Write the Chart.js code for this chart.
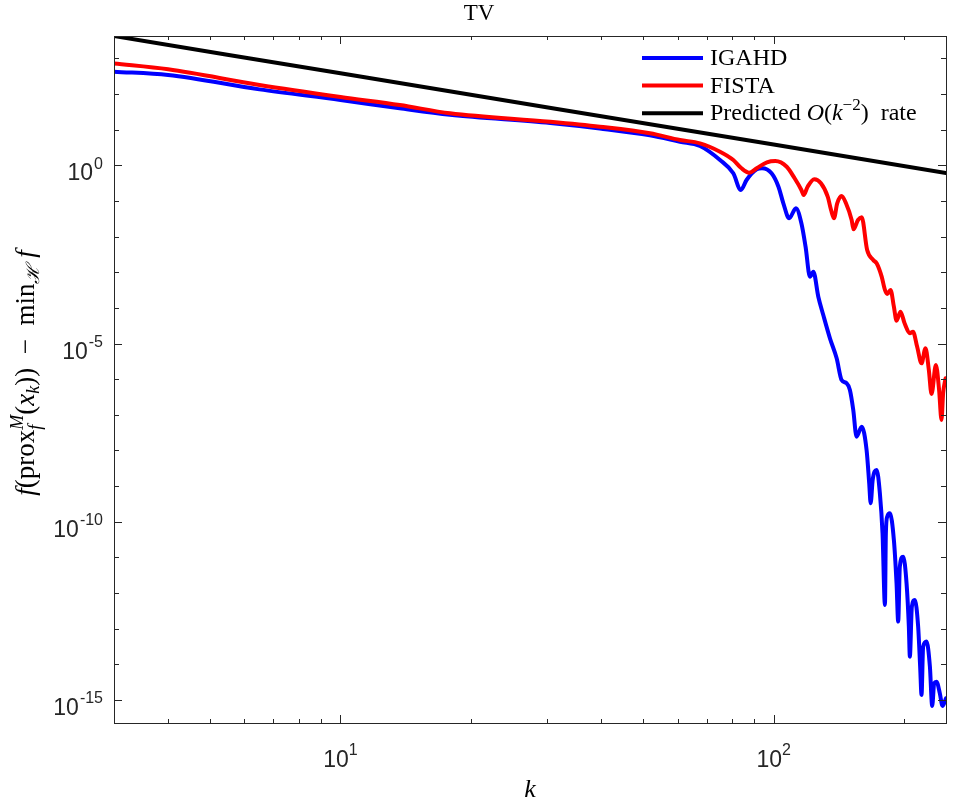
<!DOCTYPE html>
<html>
<head>
<meta charset="utf-8">
<script src="https://cdn.jsdelivr.net/npm/chart.js@4.4.1/dist/chart.umd.min.js"></script>
<style>
  html, body { margin: 0; padding: 0; background: #fff; }
  #wrap { position: relative; width: 955px; height: 805px; }
</style>
</head>
<body>
<div id="wrap"><canvas id="tvChart"></canvas></div>
<script>
// iterations k and objective gap
const igahdK = [3, 4, 6.5, 10, 13.7, 17.9, 30.5, 39.7, 51.8, 60.8, 67.6, 75.2, 80.7, 84.0, 86.6,
  91.4, 94.0, 98.9, 102.6, 105.3, 108.6, 112.6, 115.9, 118.5, 121.3, 123.5, 126.8, 130.2,
  134.9, 139.8, 143.5, 147.4, 150.0, 152.7, 155.4, 159.7, 163.9, 166.2, 167.5, 169.3, 172.9,
  175.9, 178.4, 180.7, 181.6, 182.9, 185.5, 189.5, 192.2, 193.9, 195.6, 199.1, 202.7, 205.2,
  206.3, 208.5, 211.8, 215.6, 217.9, 219.5, 221.4, 225.4, 229.5, 232.3, 234.8, 237.7, 241.9,
  245.4, 250];
const igahdGap = [423, 341, 135, 67.9, 39.7, 26.2, 15.4, 10.8, 6.94, 4.59, 3.48, 1.41, 0.597, 0.203, 0.387,
  0.772, 0.824, 0.597, 0.251, 0.086, 0.0326, 0.0622, 0.0236, 5.21e-3, 7.5e-4, 1.04e-3, 2.06e-4, 6.3e-5,
  1.4e-5, 3.85e-6, 9.5e-7, 7.7e-7, 4.98e-7, 1.37e-7, 2.44e-8, 4.65e-8, 1.03e-8, 1.2e-9, 3.3e-10, 1.49e-9, 2.84e-9,
  6.3e-10, 4.75e-11, 4.63e-13, 4.75e-11, 1.39e-10, 1.73e-10, 3.08e-11, 1.88e-12, 1.58e-13, 5.51e-12, 1.05e-11, 1.88e-12, 1.14e-13,
  1.64e-14, 4.16e-13, 6.4e-13, 1.14e-13, 8.63e-15, 1.39e-15, 3.14e-14, 4.34e-14, 8.63e-15, 6.81e-16, 2.95e-15, 3.27e-15, 1.55e-15,
  6.81e-16, 1.12e-15];

const fistaK = [3, 4, 6.5, 10, 13.7, 17.9, 30.5, 39.7, 51.8, 60.8, 67.6, 75.2, 80.7, 84.3, 87.8,
  91.4, 96.5, 100.9, 107.2, 111.8, 115.9, 117.3, 119.8, 124.1, 128.6, 133.3, 135.7, 137.8, 140.2,
  143.5, 146.9, 151.4, 152.9, 156.6, 159.7, 164.4, 169.8, 172.9, 177.6, 180.7, 182.9, 186.2,
  189.5, 192.2, 196.3, 200.6, 206.3, 209.8, 214.4, 219.5, 224.2, 228.2, 231.5, 236.9, 241.0,
  244.1, 246.2, 249.4];
const fistaGap = [718, 493, 179, 82.4, 49.1, 28.8, 16.7, 12.1, 7.9, 5.13, 4.14, 2.41, 1.41, 0.824, 0.62,
  0.824, 1.21, 1.32, 0.913, 0.432, 0.203, 0.147, 0.251, 0.405, 0.313, 0.132, 0.0557, 0.0326, 0.086,
  0.138, 0.086, 0.0292, 0.016, 0.0292, 0.0348, 4.2e-3, 2.21e-3, 1.78e-3, 7.5e-4, 3.18e-4, 2.45e-4, 3.18e-4,
  1.08e-4, 4.38e-5, 7.8e-5, 3.7e-5, 1.94e-5, 2.15e-5, 8.2e-6, 2.79e-6, 7.4e-6, 1.81e-6, 3.85e-7, 2.5e-6, 4.98e-7,
  7.2e-8, 4.0e-7, 1.06e-6];

const rateK = [3, 10, 100, 250];
const rateGap = [4240, 381, 3.81, 0.61];

const xLimits = [3, 250];
const yLimits = [2.26e-16, 4.24e3];
const xTickExp = [1, 2];
const xMinorTicks = [4, 5, 6, 7, 8, 9, 20, 30, 40, 50, 60, 70, 80, 90, 200];
const yTickExp = [0, -5, -10, -15];
const yDecadeExp = [3, 2, 1, 0, -1, -2, -3, -4, -5, -6, -7, -8, -9, -10, -11, -12, -13, -14, -15];

const SERIF = '"Liberation Serif", "Times New Roman", serif';
const SANS = '"Liberation Sans", Arial, sans-serif';
const AXIS_COLOR = '#262626';
const serif = (size, italic) => (italic ? 'italic ' : '') + size + 'px ' + SERIF;

// draw a run of text pieces (sub/superscripts via dy, stack puts a piece under the previous one)
function drawRich(ctx, parts, x, y, align) {
  let cursor = 0, lastStart = 0;
  const placed = parts.map(p => {
    ctx.font = p.font;
    const w = ctx.measureText(p.t).width;
    let start = cursor;
    if (p.stack) { start = lastStart; cursor = Math.max(cursor, start + w); }
    else { cursor += w; lastStart = start; }
    return { p, start };
  });
  const x0 = align === 'center' ? x - cursor / 2 : align === 'right' ? x - cursor : x;
  placed.forEach(({ p, start }) => {
    ctx.font = p.font;
    ctx.fillText(p.t, x0 + start, y + (p.dy || 0));
  });
  return cursor;
}

const legendRows = [
  [{ t: 'IGAHD', font: serif(24) }],
  [{ t: 'FISTA', font: serif(24) }],
  [{ t: 'Predicted ', font: serif(24) }, { t: 'O', font: serif(24, true) }, { t: '(', font: serif(24) },
   { t: 'k', font: serif(24, true) }, { t: '\u22122', font: serif(17), dy: -10 }, { t: ')  rate', font: serif(24) }]
];

const yTitle = [
  { t: 'f', font: serif(27, true) }, { t: '(prox', font: serif(27) },
  { t: 'M', font: serif(18, true), dy: -11 }, { t: 'f', font: serif(18, true), dy: 7, stack: true },
  { t: '(', font: serif(27) }, { t: 'x', font: serif(27, true) }, { t: 'k', font: serif(18, true), dy: 5 },
  { t: '))  \u2212  min', font: serif(27) }, { t: '\u210B', font: serif(18, true), dy: 5 },
  { t: ' f', font: serif(27, true) }
];

const matlabAxes = {
  id: 'matlabAxes',
  afterDatasetsDraw(chart) {
    const ctx = chart.ctx;
    const a = chart.chartArea;
    const xs = chart.scales.x, ys = chart.scales.y;
    ctx.save();
    ctx.strokeStyle = AXIS_COLOR;
    ctx.fillStyle = AXIS_COLOR;
    ctx.lineWidth = 1;
    ctx.beginPath();
    const tickX = (v, len) => {
      const px = Math.round(xs.getPixelForValue(v)) + 0.5;
      ctx.moveTo(px, a.bottom); ctx.lineTo(px, a.bottom - len);
      ctx.moveTo(px, a.top); ctx.lineTo(px, a.top + len);
    };
    const tickY = (v, len) => {
      const py = Math.round(ys.getPixelForValue(v)) + 0.5;
      ctx.moveTo(a.left, py); ctx.lineTo(a.left + len, py);
      ctx.moveTo(a.right, py); ctx.lineTo(a.right - len, py);
    };
    xTickExp.forEach(e => tickX(Math.pow(10, e), 8));
    xMinorTicks.forEach(v => tickX(v, 4));
    yDecadeExp.forEach(e => tickY(Math.pow(10, e), yTickExp.includes(e) ? 8 : 5));
    ctx.stroke();
    ctx.strokeRect(Math.round(a.left) + 0.5, Math.round(a.top) + 0.5,
      Math.round(a.right - a.left), Math.round(a.bottom - a.top));

    // tick labels
    ctx.textBaseline = 'alphabetic';
    const main = '23px ' + SANS, sup = '16px ' + SANS;
    yTickExp.forEach(e => {
      const py = ys.getPixelForValue(Math.pow(10, e));
      const expTxt = String(e);
      ctx.font = sup;
      const sw = ctx.measureText(expTxt).width;
      ctx.textAlign = 'right';
      ctx.fillText(expTxt, a.left - 11, py + 3.5);
      ctx.font = main;
      ctx.fillText('10', a.left - 12 - sw, py + 15);
    });
    ctx.textAlign = 'left';
    xTickExp.forEach(e => {
      const px = xs.getPixelForValue(Math.pow(10, e));
      drawRich(ctx, [{ t: '10', font: main }, { t: String(e), font: sup, dy: -11.7 }], px, a.bottom + 44, 'center');
    });

    // axis titles and title
    ctx.fillStyle = '#000';
    drawRich(ctx, [{ t: 'k', font: serif(26, true) }], (a.left + a.right) / 2, 797, 'center');
    drawRich(ctx, [{ t: 'TV', font: serif(23) }], 479, 20, 'center');
    ctx.save();
    ctx.translate(34, 373);
    ctx.rotate(-Math.PI / 2);
    drawRich(ctx, yTitle, 0, 0, 'center');
    ctx.restore();

    // legend
    [0, 1, 2].forEach((di, i) => {
      const ds = chart.data.datasets[di];
      const y = 58 + i * 27.6;
      ctx.strokeStyle = ds.borderColor;
      ctx.lineWidth = 4;
      ctx.beginPath();
      ctx.moveTo(642, y); ctx.lineTo(703, y);
      ctx.stroke();
      ctx.fillStyle = '#000';
      drawRich(ctx, legendRows[i], 710, y + 7, 'left');
    });
    ctx.restore();
  }
};

const toPoints = (ks, vals) => ks.map((k, i) => ({ x: k, y: vals[i] }));

new Chart(document.getElementById('tvChart'), {
  type: 'line',
  data: {
    datasets: [
      { label: 'IGAHD', data: toPoints(igahdK, igahdGap), borderColor: '#0000ff', order: 2 },
      { label: 'FISTA', data: toPoints(fistaK, fistaGap), borderColor: '#ff0000', order: 1 },
      { label: 'Predicted O(k^-2) rate', data: toPoints(rateK, rateGap), borderColor: '#000000', order: 0,
        cubicInterpolationMode: 'default' }
    ]
  },
  options: {
    responsive: true,
    maintainAspectRatio: false,
    animation: false,
    layout: { padding: { left: 114, top: 36, right: 9, bottom: 82 } },
    elements: {
      point: { radius: 0 },
      line: { borderWidth: 4, tension: 0.4, cubicInterpolationMode: 'monotone',
        borderJoinStyle: 'round', borderCapStyle: 'round', fill: false }
    },
    plugins: { legend: { display: false }, tooltip: { enabled: false } },
    scales: {
      x: { type: 'logarithmic', min: xLimits[0], max: xLimits[1], display: false },
      y: { type: 'logarithmic', min: yLimits[0], max: yLimits[1], display: false }
    }
  },
  plugins: [matlabAxes]
});
</script>
</body>
</html>
